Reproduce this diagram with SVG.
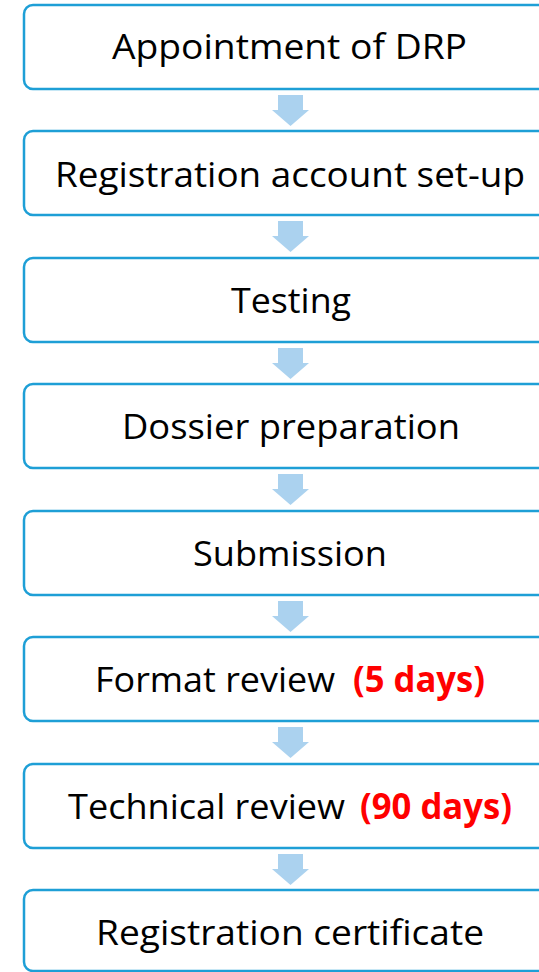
<svg xmlns="http://www.w3.org/2000/svg" width="539" height="972" viewBox="0 0 539 972">
<style>
.box{fill:#fff;stroke:#1E9FD6;stroke-width:2.5}
.t{font-family:"Open Sans","Noto Sans","Liberation Sans",sans-serif;font-size:35px;fill:#000}
.r{font-family:"Open Sans","Noto Sans","Liberation Sans",sans-serif;font-size:35px;font-weight:bold;fill:#FF0000}
.arr{fill:#ABD2EF}
</style>
<defs>
<path id="a" d="M278,0 H303 V15 H309 L290.5,31 L272,15 H278 Z"/>
</defs>
<rect width="539" height="972" fill="#fff"/>
<g id="connectors">
<use href="#a" class="arr" y="95"/>
<use href="#a" class="arr" y="221"/>
<use href="#a" class="arr" y="348"/>
<use href="#a" class="arr" y="474"/>
<use href="#a" class="arr" y="601"/>
<use href="#a" class="arr" y="727"/>
<use href="#a" class="arr" y="854"/>
</g>
<g id="n1"><rect class="box" x="24" y="5" width="540" height="84" rx="9"/><text class="t" x="112" y="59" textLength="355" lengthAdjust="spacingAndGlyphs">Appointment of DRP</text></g>
<g id="n2"><rect class="box" x="24" y="131" width="540" height="84" rx="9"/><text class="t" x="55" y="187" textLength="470" lengthAdjust="spacingAndGlyphs">Registration account set-up</text></g>
<g id="n3"><rect class="box" x="24" y="258" width="540" height="84" rx="9"/><text class="t" x="231" y="313" textLength="120" lengthAdjust="spacingAndGlyphs">Testing</text></g>
<g id="n4"><rect class="box" x="24" y="384" width="540" height="84" rx="9"/><text class="t" x="122" y="439" textLength="338" lengthAdjust="spacingAndGlyphs">Dossier preparation</text></g>
<g id="n5"><rect class="box" x="24" y="511" width="540" height="84" rx="9"/><text class="t" x="193" y="566" textLength="194" lengthAdjust="spacingAndGlyphs">Submission</text></g>
<g id="n6"><rect class="box" x="24" y="637" width="540" height="84" rx="9"/><text y="692"><tspan class="t" x="95" textLength="240" lengthAdjust="spacingAndGlyphs">Format review</tspan><tspan class="r" x="353" textLength="132" lengthAdjust="spacingAndGlyphs">(5 days)</tspan></text></g>
<g id="n7"><rect class="box" x="24" y="764" width="540" height="84" rx="9"/><text y="819"><tspan class="t" x="68" textLength="277" lengthAdjust="spacingAndGlyphs">Technical review</tspan><tspan class="r" x="360" textLength="152" lengthAdjust="spacingAndGlyphs">(90 days)</tspan></text></g>
<g id="n8"><rect class="box" x="24" y="890" width="540" height="81" rx="9"/><text class="t" x="96" y="945" textLength="388" lengthAdjust="spacingAndGlyphs">Registration certificate</text></g>
</svg>
